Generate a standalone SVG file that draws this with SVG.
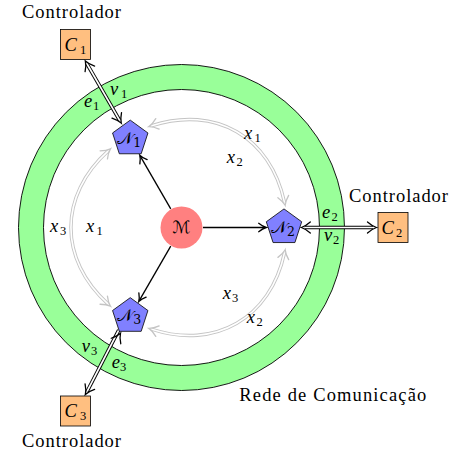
<svg xmlns="http://www.w3.org/2000/svg" xmlns:xlink="http://www.w3.org/1999/xlink" width="459" height="452" viewBox="0 0 459 452">
<style>
.ring{fill:#99ff99;stroke:#000;stroke-width:0.9;fill-rule:evenodd}
.pent{fill:#8080ff;stroke:#000;stroke-width:0.8}
.ctrl{fill:#ffbf80;stroke:#000;stroke-width:0.8}
.lbl{font-family:'Liberation Serif',serif;font-size:18.5px;fill:#000}
.m{font-family:'Liberation Serif',serif;font-style:italic;font-size:18.5px;fill:#000}
.sub{font-style:normal;font-size:12.5px}
.cal{font-family:'DejaVu Serif','DejaVu Sans','Noto Sans',serif;font-size:17px;fill:#000}
.blk{stroke:#000;stroke-width:1.3;fill:none}
.dblo{stroke:#000;stroke-width:3.6;fill:none}
.dbli{stroke:#fff;stroke-width:1.7;fill:none}
.gro{stroke:#c4c4c4;stroke-width:3.4;fill:none}
.gri{stroke:#fff;stroke-width:1.6;fill:none}
.ah{stroke:#000;stroke-width:1.3;fill:none;stroke-linecap:round}
.ahg{stroke:#c4c4c4;stroke-width:1.3;fill:none;stroke-linecap:round}
</style>
<defs>
<polygon id="pent" points="0,-18.6 17.69,-5.75 10.93,15.05 -10.93,15.05 -17.69,-5.75"/>
<path id="tip" d="M-7.5,-4.2 C-4.5,-1.8 -1.5,-0.4 0,0 C-1.5,0.4 -4.5,1.8 -7.5,4.2"/>
<path id="tip2" d="M-9,-5.5 C-5.5,-2.4 -2,-0.6 0,0 C-2,0.6 -5.5,2.4 -9,5.5"/>
<g id="arc">
<path class="gro" d="M151.75,125.7 C215.5,105.1 270.5,136.85 284.5,202.4"/>
<path class="gri" d="M151.75,125.7 C215.5,105.1 270.5,136.85 284.5,202.4"/>
<use xlink:href="#tip2" class="ahg" transform="translate(148.9,126.6) rotate(162.1)"/>
<use xlink:href="#tip2" class="ahg" transform="translate(285.15,205.3) rotate(77.9)"/>
</g>
</defs>

<g id="network">
<path class="ring" d="M181.5,64.5 a163,163 0 1,0 0,326 a163,163 0 1,0 0,-326 Z M181.5,89.5 a138,138 0 1,0 0,276 a138,138 0 1,0 0,-276 Z"/>
<text class="lbl" x="239.3" y="401" textLength="187" lengthAdjust="spacing">Rede de Comunicação</text>
</g>

<g id="connectors">
<use xlink:href="#arc"/>
<use xlink:href="#arc" transform="rotate(120 181.5 227.5)"/>
<use xlink:href="#arc" transform="rotate(240 181.5 227.5)"/>
<line class="blk" x1="170.75" y1="208.88" x2="140.25" y2="156.07"/>
<use xlink:href="#tip" class="ah" transform="translate(139.75,155.2) rotate(240)"/>
<line class="blk" x1="203" y1="227.5" x2="265.2" y2="227.5"/>
<use xlink:href="#tip" class="ah" transform="translate(266.2,227.5) rotate(0)"/>
<line class="blk" x1="170.75" y1="246.12" x2="139.25" y2="300.67"/>
<use xlink:href="#tip" class="ah" transform="translate(138.75,301.54) rotate(120)"/>
<line class="dblo" x1="87.1" y1="64.03" x2="119.5" y2="120.12"/>
<line class="dbli" x1="87.1" y1="64.03" x2="119.5" y2="120.12"/>
<use xlink:href="#tip2" class="ah" transform="translate(121.25,123.15) rotate(60)"/>
<use xlink:href="#tip2" class="ah" transform="translate(85.35,61) rotate(240)"/>
<line class="dblo" x1="304.8" y1="227.5" x2="373" y2="227.5"/>
<line class="dbli" x1="304.8" y1="227.5" x2="373" y2="227.5"/>
<use xlink:href="#tip2" class="ah" transform="translate(301.3,227.5) rotate(180)"/>
<use xlink:href="#tip2" class="ah" transform="translate(376.5,227.5) rotate(0)"/>
<line class="dblo" x1="118.75" y1="330.17" x2="87.1" y2="391.47"/>
<line class="dbli" x1="118.75" y1="330.17" x2="87.1" y2="391.47"/>
<use xlink:href="#tip2" class="ah" transform="translate(120.5,333.2) rotate(-60)"/>
<use xlink:href="#tip2" class="ah" transform="translate(85.35,394.5) rotate(120)"/>
</g>

<g id="labels">
<text class="m" x="244" y="139.3">x<tspan class="sub" x="254.5" dy="3">1</tspan></text>
<text class="m" x="226.7" y="162.7">x<tspan class="sub" x="236.5" dy="3">2</tspan></text>
<text class="m" x="322" y="218.3">e<tspan class="sub" x="331.5" dy="3">2</tspan></text>
<text class="m" x="324" y="241">v<tspan class="sub" x="333" dy="3">2</tspan></text>
<text class="m" x="110" y="95">v<tspan class="sub" x="121" dy="3">1</tspan></text>
<text class="m" x="84" y="107">e<tspan class="sub" x="93" dy="3">1</tspan></text>
<text class="m" x="81.7" y="351.7">v<tspan class="sub" x="91" dy="3">3</tspan></text>
<text class="m" x="111.7" y="368.3">e<tspan class="sub" x="120" dy="3">3</tspan></text>
<text class="m" x="50" y="231.7">x<tspan class="sub" x="60" dy="3">3</tspan></text>
<text class="m" x="86" y="231.7">x<tspan class="sub" x="96.5" dy="3">1</tspan></text>
<text class="m" x="222.7" y="299.3">x<tspan class="sub" x="232" dy="3">3</tspan></text>
<text class="m" x="246.7" y="323.3">x<tspan class="sub" x="256.5" dy="3">2</tspan></text>
</g>

<g id="M">
<circle cx="181.5" cy="227.5" r="21" fill="#ff8080"/>
<text class="cal" x="181.5" y="233" text-anchor="middle">ℳ</text>
</g>

<g id="N1">
<use xlink:href="#pent" class="pent" x="130.25" y="138.73"/>
<text class="cal" x="129.25" y="143.7" text-anchor="middle">𝒩<tspan class="sub" dy="3">1</tspan></text>
</g>
<g id="N2">
<use xlink:href="#pent" class="pent" x="284" y="227.5"/>
<text class="cal" x="283" y="232.5" text-anchor="middle">𝒩<tspan class="sub" dy="3">2</tspan></text>
</g>
<g id="N3">
<use xlink:href="#pent" class="pent" x="130.25" y="316.27"/>
<text class="cal" x="129.25" y="321.3" text-anchor="middle">𝒩<tspan class="sub" dy="3">3</tspan></text>
</g>

<g id="C1">
<rect class="ctrl" x="60.5" y="29.5" width="30" height="30"/>
<text class="m" x="64.5" y="50.5">C<tspan class="sub" x="80" dy="3">1</tspan></text>
<text class="lbl" x="22" y="18.3" textLength="99" lengthAdjust="spacing">Controlador</text>
</g>
<g id="C2">
<rect class="ctrl" x="378" y="212.5" width="30" height="30"/>
<text class="m" x="381.5" y="233.5">C<tspan class="sub" x="396" dy="3">2</tspan></text>
<text class="lbl" x="349" y="202" textLength="99" lengthAdjust="spacing">Controlador</text>
</g>
<g id="C3">
<rect class="ctrl" x="60.5" y="396" width="30" height="30"/>
<text class="m" x="64.5" y="417">C<tspan class="sub" x="80" dy="3">3</tspan></text>
<text class="lbl" x="22" y="446.5" textLength="99" lengthAdjust="spacing">Controlador</text>
</g>
</svg>
